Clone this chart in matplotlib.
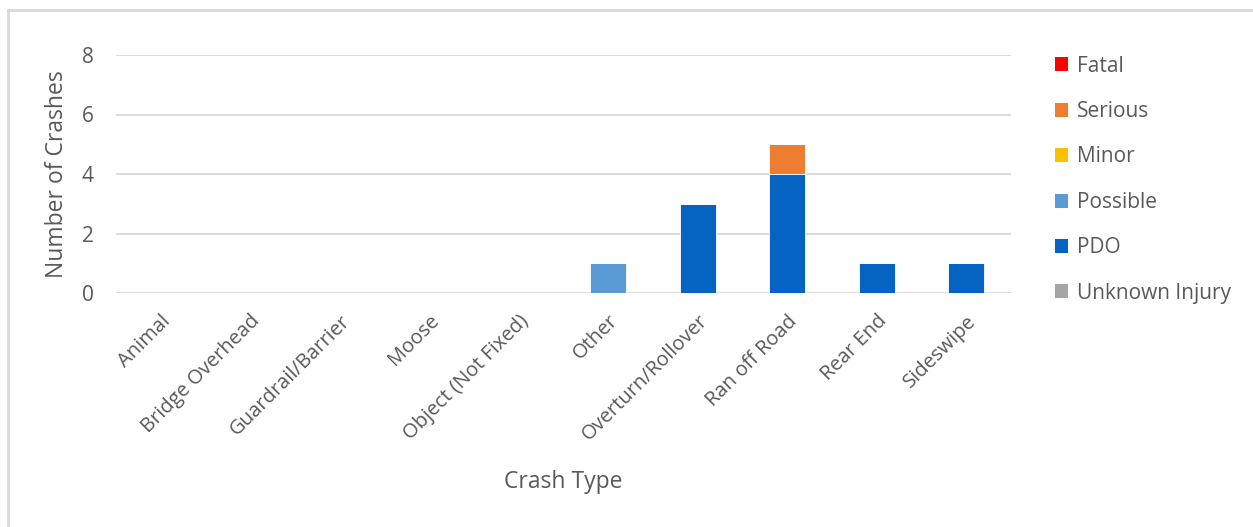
# Crash type by severity, stacked columns

import matplotlib.pyplot as plt
import numpy as np
from matplotlib.lines import Line2D
from matplotlib.patches import Patch

crash_types = ['Animal', 'Bridge Overhead', 'Guardrail/Barrier', 'Moose',
               'Object (Not Fixed)', 'Other', 'Overturn/Rollover',
               'Ran off Road', 'Rear End', 'Sideswipe']
severities = ['Fatal', 'Serious', 'Minor', 'Possible', 'PDO', 'Unknown Injury']

fatal = [0, 0, 0, 0, 0, 0, 0, 0, 0, 0]
serious = [0, 0, 0, 0, 0, 0, 0, 1, 0, 0]
minor = [0, 0, 0, 0, 0, 0, 0, 0, 0, 0]
possible = [0, 0, 0, 0, 0, 1, 0, 0, 0, 0]
pdo = [0, 0, 0, 0, 0, 0, 3, 4, 1, 1]
unknown = [0, 0, 0, 0, 0, 0, 0, 0, 0, 0]

colors = {'Fatal': '#ff0000', 'Serious': '#ed7d31', 'Minor': '#ffc000',
          'Possible': '#5b9bd5', 'PDO': '#0563c1', 'Unknown Injury': '#a5a5a5'}
text_col = '#595959'
plt.rcParams['font.family'] = ['Open Sans', 'DejaVu Sans']

fig = plt.figure(figsize=(12.53, 5.27), dpi=100)
ax = fig.add_axes([116 / 1253, 234 / 527, 895 / 1253, 238 / 527])

x = np.arange(len(crash_types))
bottom = np.zeros(len(crash_types))
# stack bottom-up: PDO under Serious, as in the original chart
for name, vals in [('PDO', pdo), ('Possible', possible), ('Serious', serious),
                   ('Minor', minor), ('Fatal', fatal), ('Unknown Injury', unknown)]:
    vals = np.array(vals, dtype=float)
    ax.bar(x, vals, 0.4, bottom=bottom, color=colors[name],
           edgecolor='white', linewidth=0.6)
    bottom += vals

ax.set_xlim(-0.5, len(crash_types) - 0.5)
ax.set_ylim(0, 8)
ax.set_yticks([0, 2, 4, 6, 8])
ax.yaxis.grid(True, color='#d9d9d9', linewidth=1.3)
ax.set_axisbelow(True)
for s in ax.spines.values():
    s.set_visible(False)
ax.tick_params(length=0, colors=text_col)
ax.tick_params(axis='y', pad=16, labelsize=15)
ax.set_xticks(x)
ax.set_xticklabels(crash_types, rotation=45, ha='right',
                   rotation_mode='anchor', fontsize=14.5)
ax.tick_params(axis='x', pad=13)
ax.set_ylabel('Number of Crashes', color=text_col, fontsize=16.5)
ax.yaxis.set_label_coords(-0.053, 0.5)
ax.set_xlabel('Crash Type', color=text_col, fontsize=16.5)
ax.xaxis.set_label_coords(0.5, -0.745)

handles = [Patch(facecolor=colors[s], edgecolor='none') for s in severities]
leg = fig.legend(handles, severities, loc='upper left',
                 bbox_to_anchor=(1036 / 1253, 1 - 37 / 527), frameon=False,
                 fontsize=15, handlelength=0.65, handleheight=0.65,
                 handletextpad=0.4, labelspacing=1.17)
for t in leg.get_texts():
    t.set_color(text_col)

# chart border (top and left edges visible)
fig.add_artist(Line2D([8 / 1253, 1], [1 - 10 / 527, 1 - 10 / 527],
                      color='#d9d9d9', linewidth=2, transform=fig.transFigure))
fig.add_artist(Line2D([8 / 1253, 8 / 1253], [0, 1 - 10 / 527],
                      color='#d9d9d9', linewidth=2, transform=fig.transFigure))

fig.savefig('out.png', dpi=100)
